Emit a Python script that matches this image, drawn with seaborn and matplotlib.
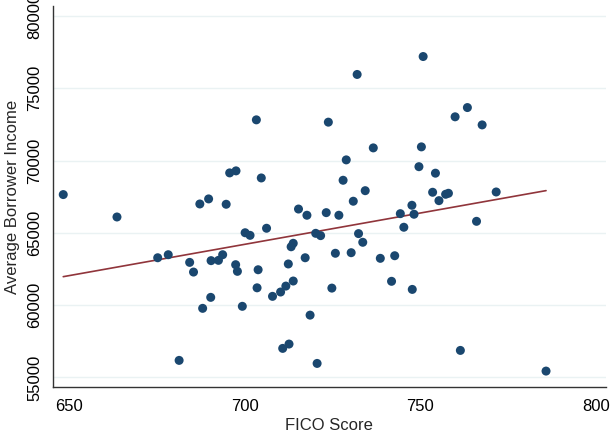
import numpy as np
import pandas as pd
import matplotlib
matplotlib.use("Agg")
import matplotlib.pyplot as plt
import seaborn as sns

# ============ DATA ============
fico = [648.3, 663.6, 675.2, 678.2, 681.3, 684.3, 685.4, 687.2, 688.0, 689.7,
        690.3, 690.4, 692.5, 693.7, 694.7, 695.7, 697.4, 697.5, 697.9, 699.3,
        700.1, 701.5, 703.3, 703.5, 703.8, 704.7, 706.2, 707.9, 710.2, 710.8,
        711.7, 712.4, 712.6, 713.2, 713.8, 713.8, 715.3, 717.2, 717.7, 718.6,
        720.2, 720.6, 721.6, 723.2, 723.8, 724.8, 725.8, 726.8, 728.0, 728.9,
        730.3, 730.9, 732.0, 732.4, 733.6, 734.3, 736.6, 738.6, 741.8, 742.7,
        744.3, 745.3, 747.6, 747.7, 748.2, 749.6, 750.3, 750.8, 753.5, 754.3,
        755.3, 757.2, 758.0, 759.9, 761.4, 763.4, 766.0, 767.6, 771.6, 785.8]
income = [67650, 66100, 63280, 63490, 56180, 62960, 62290, 67000, 59780, 67350,
          60540, 63080, 63100, 63490, 66980, 69150, 62800, 69290, 62340, 59920,
          65010, 64830, 72820, 61200, 62450, 68800, 65320, 60610, 60910, 57010,
          61320, 62850, 57310, 64040, 64280, 61670, 66650, 63280, 66220, 59310,
          64970, 55970, 64810, 66400, 72660, 61180, 63590, 66220, 68640, 70050,
          63630, 67190, 75960, 64950, 64350, 67920, 70880, 63240, 61650, 63420,
          66330, 65390, 66910, 61090, 66290, 69580, 70950, 77200, 67810, 69130,
          67230, 67670, 67740, 73030, 56870, 73670, 65800, 72470, 67830, 55440]

x_ticks = [650, 700, 750, 800]
y_ticks = [55000, 60000, 65000, 70000, 75000, 80000]

df = pd.DataFrame({"FICO Score": fico, "Average Borrower Income": income})

# ============ STYLE ============
sns.set_style("white")
plt.rcParams["font.family"] = ["Liberation Sans", "DejaVu Sans"]

fig = plt.figure(figsize=(6.1, 4.34), dpi=100)
ax = fig.add_axes([0.087, 0.108, 0.906, 0.878])

for yt in y_ticks:
    ax.axhline(yt, color="#eaf2f3", lw=1.0, zorder=0)

sns.regplot(data=df, x="FICO Score", y="Average Borrower Income", ax=ax,
            ci=None, truncate=True,
            scatter_kws=dict(s=42, color="#1a476f", edgecolor="none", alpha=1, zorder=3),
            line_kws=dict(color="#90353b", lw=1.2, zorder=2))

ax.set_xlim(645.4, 802.8)
ax.set_ylim(54330, 80690)
ax.set_xticks(x_ticks)
ax.set_yticks(y_ticks)
ax.set_yticklabels([str(t) for t in y_ticks], rotation=90, va="center")
ax.tick_params(axis="both", direction="out", length=5, width=1, color="#333333",
               labelsize=12, labelcolor="black")
ax.tick_params(axis="y", pad=3)

for side in ["top", "right"]:
    ax.spines[side].set_visible(False)
for side in ["left", "bottom"]:
    ax.spines[side].set_color("#333333")
    ax.spines[side].set_linewidth(1.0)

ax.set_xlabel("FICO Score", fontsize=12, labelpad=3)
ax.set_ylabel("Average Borrower Income", fontsize=12, labelpad=5)

fig.savefig("out.png", dpi=100)
